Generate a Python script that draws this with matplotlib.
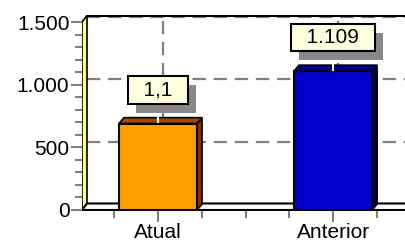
import matplotlib.pyplot as plt
from matplotlib.patches import Polygon
import matplotlib.patheffects as pe

plt.rcParams['font.family'] = ['Liberation Sans', 'DejaVu Sans']

categories = ['Atual', 'Anterior']
values = [690, 1109]
labels = ['1,1', '1.109']
front_colors = ['#FFA000', '#0000CC']
side_colors = ['#8B3000', '#000055']
top_colors = ['#A04A00', '#00008B']

fig = plt.figure(figsize=(4.05, 2.42), dpi=100)
ax = fig.add_axes([82 / 405, (242 - 211) / 242, 1 - 82 / 405, (211 - 14) / 242])

xl, xr = -0.434, 1.411
ax.set_xlim(xl, xr)
ax.set_ylim(-8, 1564)
for s in ax.spines.values():
    s.set_visible(False)

# 3D depth in data units
dx = 5 / 175
dy = 52
ytop = 1500

# left wall
ax.add_patch(Polygon([(xl, 0), (xl + dx, dy), (xl + dx, ytop + dy), (xl, ytop)],
                     closed=True, facecolor='#FFFF80', edgecolor='black', lw=1.2, zorder=1))
# floor
ax.add_patch(Polygon([(xl, 0), (xl + dx, dy), (xr + 1, dy), (xr + 1, 0)],
                     closed=True, facecolor='white', edgecolor='black', lw=1.5, zorder=1))
# back wall top edge
ax.plot([xl + dx, xr], [ytop + dy, ytop + dy], color='black', lw=1.5, zorder=1)

# grid on back wall
for g in [500, 1000, 1500]:
    ax.plot([xl + dx, xr], [g + dy - 8, g + dy - 8], color='#808080', lw=1.6,
            ls=(0, (6, 3.5)), zorder=0.9)
for i in range(len(categories)):
    ax.plot([i + dx, i + dx], [dy, ytop + dy], color='#808080', lw=1.6,
            ls=(0, (6, 3.5)), zorder=0.9)

# bars with side and top faces
w = 0.446
bars = ax.bar(range(len(categories)), values, width=w, color=front_colors,
              edgecolor='black', lw=1.5, zorder=3)
for i, (b, v) in enumerate(zip(bars, values)):
    x0 = b.get_x()
    x1 = x0 + b.get_width()
    ax.add_patch(Polygon([(x1, 0), (x1 + dx, dy * 0.9), (x1 + dx, v + dy * 0.9), (x1, v)],
                         closed=True, facecolor=side_colors[i], edgecolor='black', lw=1.2, zorder=2.9))
    ax.add_patch(Polygon([(x0, v), (x0 + dx, v + dy * 0.9), (x1 + dx, v + dy * 0.9), (x1, v)],
                         closed=True, facecolor=top_colors[i], edgecolor='black', lw=1.2, zorder=2.9))
    # leader line
    ax.plot([i, i], [v + 10, v + 110], color='white', lw=1.5, zorder=4)
    # value label with drop shadow
    t = ax.annotate('  ' + labels[i] + '  ', xy=(i, v), xytext=(0, 24), textcoords='offset pixels',
                    ha='center', va='bottom', fontsize=15, color='black',
                    bbox=dict(boxstyle='square,pad=0.2', fc='#FFFFE0', ec='black', lw=1.5),
                    zorder=5)
    t.get_bbox_patch().set_path_effects([
        pe.SimplePatchShadow(offset=(5.8, -6.5), shadow_rgbFace='#888888', alpha=1),
        pe.Normal()])

ax.set_yticks([0, 500, 1000, 1500])
ax.set_yticklabels(['0', '500', '1.000', '1.500'], fontsize=15)
ax.set_yticks(range(0, 1501, 100), minor=True)
ax.set_xticks(range(len(categories)))
ax.set_xticklabels(categories, fontsize=15)
ax.set_xticks([-0.25, 0.25, 0.5, 0.75, 1.25], minor=True)
ax.tick_params(axis='both', which='major', length=8, width=1.5, color='#808080', pad=1)
ax.tick_params(axis='both', which='minor', length=5, width=1.5, color='#808080')
ax.tick_params(axis='x', which='major', pad=1)

fig.savefig('out.png', dpi=100)
